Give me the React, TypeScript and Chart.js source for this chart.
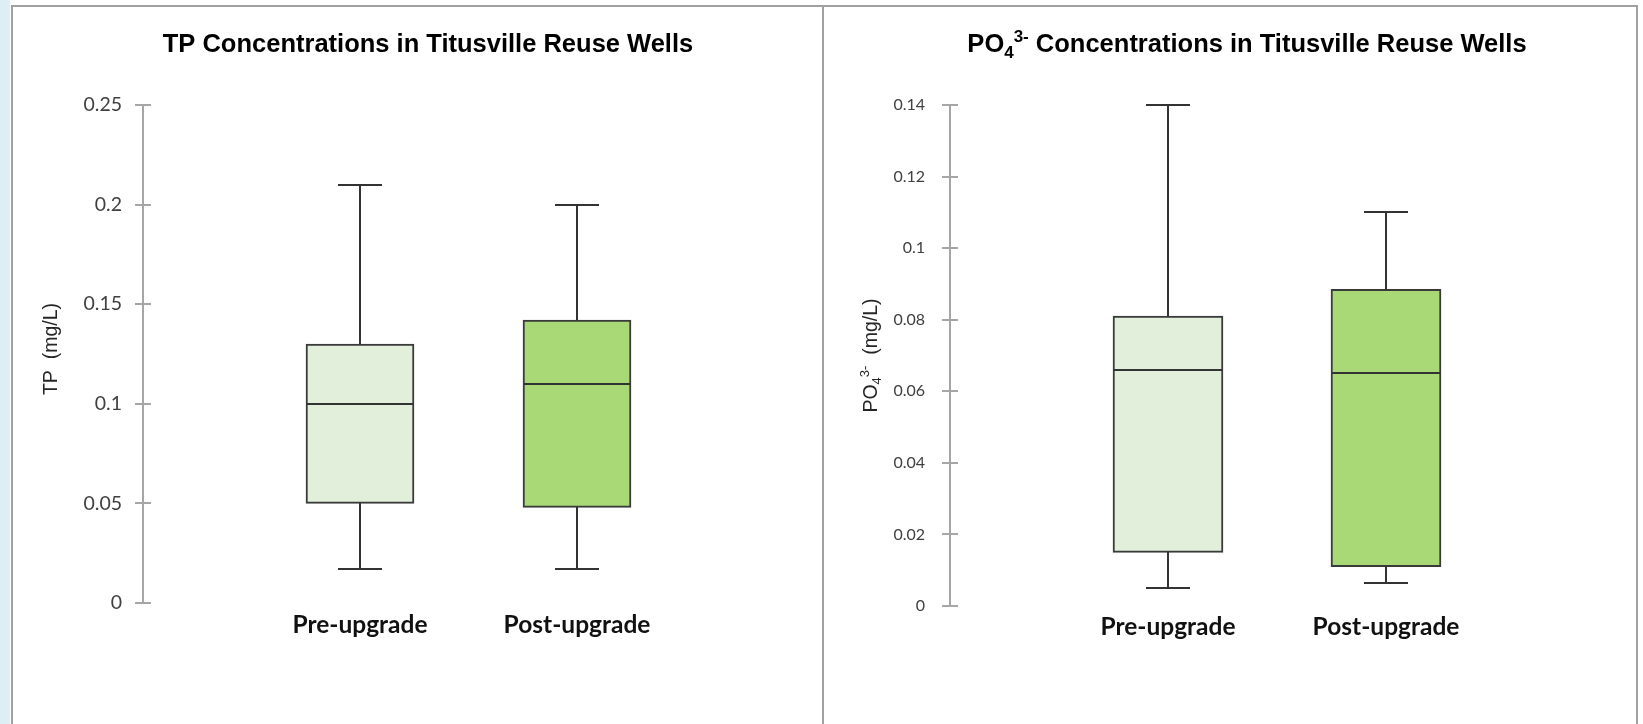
import React, { useEffect, useRef } from 'react';
import { Chart, registerables } from 'chart.js';

Chart.register(...registerables);

// ---------- data ----------
const categories = ['Pre-upgrade', 'Post-upgrade'];

// TP (mg/L)
const tpMin = [0.017, 0.017];
const tpQ1 = [0.05, 0.048];
const tpMedian = [0.1, 0.11];
const tpQ3 = [0.13, 0.142];
const tpMax = [0.21, 0.2];
const tpTicks = [0, 0.05, 0.1, 0.15, 0.2, 0.25];

// PO4 3- (mg/L)
const poMin = [0.005, 0.0065];
const poQ1 = [0.015, 0.011];
const poMedian = [0.066, 0.065];
const poQ3 = [0.081, 0.0885];
const poMax = [0.14, 0.11];
const poTicks = [0, 0.02, 0.04, 0.06, 0.08, 0.1, 0.12, 0.14];

const boxColors = ['#e2efda', '#a9d977'];

type Run = { text: string; script?: 'sub' | 'sup' };

const tpTitle: Run[] = [{ text: 'TP Concentrations in Titusville Reuse Wells' }];
const tpAxisTitle: Run[] = [{ text: 'TP  (mg/L)' }];
const poTitle: Run[] = [
  { text: 'PO' },
  { text: '4', script: 'sub' },
  { text: '3-', script: 'sup' },
  { text: ' Concentrations in Titusville Reuse Wells' },
];
const poAxisTitle: Run[] = [
  { text: 'PO' },
  { text: '4', script: 'sub' },
  { text: '3-', script: 'sup' },
  { text: '  (mg/L)' },
];

// ---------- helpers ----------
function drawRuns(
  ctx: CanvasRenderingContext2D,
  runs: Run[],
  cx: number,
  y: number,
  size: number,
  weight: string,
  family: string
) {
  const small = Math.round(size * 0.66);
  const fontFor = (r: Run) => `${weight} ${r.script ? small : size}px ${family}`;
  const widths = runs.map((r) => {
    ctx.font = fontFor(r);
    return ctx.measureText(r.text).width;
  });
  const total = widths.reduce((a, b) => a + b, 0);
  let x = cx - total / 2;
  ctx.textAlign = 'left';
  ctx.textBaseline = 'alphabetic';
  runs.forEach((r, i) => {
    ctx.font = fontFor(r);
    const dy = r.script === 'sub' ? size * 0.22 : r.script === 'sup' ? -size * 0.4 : 0;
    ctx.fillText(r.text, x, y + dy);
    x += widths[i];
  });
}

type PanelCfg = {
  min: number[];
  q1: number[];
  median: number[];
  q3: number[];
  max: number[];
  ticks: number[];
  yMax: number;
  title: Run[];
  axisTitle: Run[];
  titleX: number;
  titleY: number;
  titleSize: number;
  axisTitleX: number;
  axisTitleShift: number;
  yWidth: number;
  xHeight: number;
  padTop: number;
  padRight: number;
  boxWidth: number;
  capWidth: number;
  tickFont: number;
  tickPad: number;
  catFont: number;
  catPad: number;
  axisTitleSize: number;
};

function makeChart(canvas: HTMLCanvasElement, c: PanelCfg) {
  const decor = {
    id: 'decor',
    afterDatasetsDraw(chart: any) {
      const { ctx, scales } = chart;
      const xs = scales.x;
      const ys = scales.y;
      const py = (v: number) => Math.round(ys.getPixelForValue(v));
      ctx.save();
      ctx.strokeStyle = '#333333';
      ctx.lineWidth = 2;
      const line = (x1: number, y1: number, x2: number, y2: number) => {
        ctx.beginPath();
        ctx.moveTo(x1, y1);
        ctx.lineTo(x2, y2);
        ctx.stroke();
      };
      categories.forEach((_, i) => {
        const cx = Math.round(xs.getPixelForValue(i + 1));
        const hb = c.boxWidth / 2;
        const hc = c.capWidth / 2;
        line(cx - hb + 1, py(c.median[i]), cx + hb - 1, py(c.median[i]));
        line(cx, py(c.q3[i]), cx, py(c.max[i]));
        line(cx - hc, py(c.max[i]), cx + hc, py(c.max[i]));
        line(cx, py(c.q1[i]), cx, py(c.min[i]));
        line(cx - hc, py(c.min[i]), cx + hc, py(c.min[i]));
      });
      ctx.restore();
    },
    afterDraw(chart: any) {
      const { ctx, chartArea, scales } = chart;
      const ys = scales.y;
      ctx.save();
      // inner half of the crossing tick marks
      ctx.strokeStyle = '#a6a6a6';
      ctx.lineWidth = 2;
      ys.ticks.forEach((_: any, i: number) => {
        const p = Math.round(ys.getPixelForTick(i));
        ctx.beginPath();
        ctx.moveTo(chartArea.left, p);
        ctx.lineTo(chartArea.left + 8, p);
        ctx.stroke();
      });
      // titles
      ctx.fillStyle = '#000000';
      drawRuns(ctx, c.title, c.titleX, c.titleY, c.titleSize, 'bold', '"Liberation Sans", Arial, sans-serif');
      ctx.fillStyle = '#262626';
      ctx.translate(c.axisTitleX, (chartArea.top + chartArea.bottom) / 2 + c.axisTitleShift);
      ctx.rotate(-Math.PI / 2);
      drawRuns(ctx, c.axisTitle, 0, 0, c.axisTitleSize, 'normal', '"Liberation Sans", Arial, sans-serif');
      ctx.restore();
    },
  };

  return new Chart(canvas, {
    type: 'bar',
    data: {
      labels: ['', ...categories, ''],
      datasets: [
        {
          data: [null, ...categories.map((_, i) => [c.q1[i], c.q3[i]]), null] as any,
          backgroundColor: ['rgba(0,0,0,0)', ...boxColors, 'rgba(0,0,0,0)'],
          borderColor: '#3a3a3a',
          borderWidth: 2,
          borderSkipped: false,
          barThickness: c.boxWidth,
        },
      ],
    },
    options: {
      animation: false,
      responsive: false,
      maintainAspectRatio: false,
      layout: { padding: { top: c.padTop, right: c.padRight, bottom: 0, left: 0 } },
      plugins: {
        legend: { display: false },
        tooltip: { enabled: false },
        title: { display: false },
      },
      scales: {
        x: {
          type: 'category',
          offset: false,
          grid: { display: false, drawTicks: false },
          border: { display: false },
          ticks: {
            autoSkip: false,
            maxRotation: 0,
            padding: c.catPad,
            color: '#111111',
            font: { family: 'Lato, "Noto Sans", sans-serif', size: c.catFont, weight: 'bold' },
          },
          afterFit: (s: any) => {
            s.height = c.xHeight;
          },
        },
        y: {
          min: 0,
          max: c.yMax,
          afterBuildTicks: (s: any) => {
            s.ticks = c.ticks.map((value) => ({ value }));
          },
          ticks: {
            padding: c.tickPad,
            color: '#404040',
            font: { family: 'Lato, "Noto Sans", sans-serif', size: c.tickFont },
            callback: (v: any) => String(v),
          },
          grid: {
            drawOnChartArea: false,
            drawTicks: true,
            tickLength: 8,
            color: '#a6a6a6',
            lineWidth: 2,
          },
          border: { display: true, color: '#a6a6a6', width: 2 },
          afterFit: (s: any) => {
            s.width = c.yWidth;
          },
        },
      },
    } as any,
    plugins: [decor],
  });
}

const leftCfg: PanelCfg = {
  min: tpMin,
  q1: tpQ1,
  median: tpMedian,
  q3: tpQ3,
  max: tpMax,
  ticks: tpTicks,
  yMax: 0.25,
  title: tpTitle,
  axisTitle: tpAxisTitle,
  titleX: 415,
  titleY: 44,
  titleSize: 25.5,
  axisTitleX: 44,
  axisTitleShift: -5,
  yWidth: 130,
  xHeight: 121,
  padTop: 97,
  padRight: 28,
  boxWidth: 108,
  capWidth: 44,
  tickFont: 19.5,
  tickPad: 13,
  catFont: 24.5,
  catPad: 7,
  axisTitleSize: 19.5,
};

const rightCfg: PanelCfg = {
  min: poMin,
  q1: poQ1,
  median: poMedian,
  q3: poQ3,
  max: poMax,
  ticks: poTicks,
  yMax: 0.14,
  title: poTitle,
  axisTitle: poAxisTitle,
  titleX: 422,
  titleY: 44,
  titleSize: 25.5,
  axisTitleX: 52,
  axisTitleShift: 0,
  yWidth: 125,
  xHeight: 118,
  padTop: 97,
  padRight: 32,
  boxWidth: 110,
  capWidth: 44,
  tickFont: 16,
  tickPad: 17,
  catFont: 24.5,
  catPad: 6,
  axisTitleSize: 19.5,
};

function Panel({ cfg, left, width }: { cfg: PanelCfg; left: number; width: number }) {
  const ref = useRef<HTMLCanvasElement | null>(null);
  useEffect(() => {
    if (!ref.current) return;
    const chart = makeChart(ref.current, cfg);
    return () => chart.destroy();
  }, [cfg]);
  return (
    <canvas
      ref={ref}
      width={width}
      height={716}
      style={{ position: 'absolute', left, top: 8, width, height: 716 }}
    />
  );
}

export default function App() {
  const border = '#a0a0a0';
  return (
    <div
      style={{
        position: 'absolute',
        left: 0,
        top: 0,
        width: 1643,
        height: 724,
        background: '#ffffff',
        overflow: 'hidden',
      }}
    >
      <div style={{ position: 'absolute', left: 0, top: 0, width: 10, height: 724, background: '#ddeff4' }} />
      <div style={{ position: 'absolute', left: 11, top: 5, width: 1627, height: 2, background: border }} />
      <div style={{ position: 'absolute', left: 11, top: 5, width: 2, height: 719, background: border }} />
      <div style={{ position: 'absolute', left: 822, top: 5, width: 2, height: 719, background: border }} />
      <div style={{ position: 'absolute', left: 1636, top: 5, width: 2, height: 719, background: border }} />
      <Panel cfg={leftCfg} left={13} width={809} />
      <Panel cfg={rightCfg} left={825} width={811} />
    </div>
  );
}
